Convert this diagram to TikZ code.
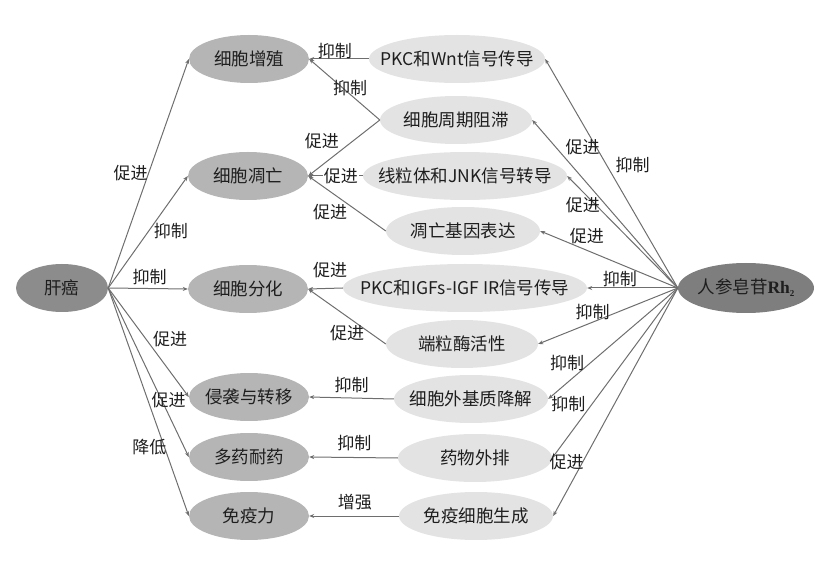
\documentclass[tikz,border=0pt]{standalone}
\usepackage{fontspec}
\setmainfont{Noto Sans CJK SC}
\newfontfamily\rhfont{Liberation Serif}
\usetikzlibrary{shapes.geometric,arrows.meta}
\definecolor{darkfill}{HTML}{8C8C8C}
\definecolor{rhfill}{HTML}{7E7E7E}
\definecolor{midfill}{HTML}{B5B5B5}
\definecolor{lightfill}{HTML}{E3E3E3}
\definecolor{txt}{HTML}{1E1E1E}
\definecolor{linec}{HTML}{6E6E6E}
\newcommand{\zw}[1]{\makebox[0pt][c]{#1}}
\tikzset{
  oval/.style={ellipse, inner sep=0pt, minimum height=48pt, text=txt,
    font=\fontsize{17.5}{19}\selectfont},
  rootbox/.style={oval, fill=darkfill, minimum width=92pt},
  drugbox/.style={oval, fill=rhfill, minimum width=136pt, minimum height=50pt},
  effbox/.style={oval, fill=midfill, minimum width=120pt},
  mechbox/.style={oval, fill=lightfill},
  conn/.style={draw=linec, line width=1pt, -{Stealth[length=5pt,width=4pt]}},
  lab/.style={text=txt, inner sep=1pt, font=\fontsize{17}{18}\selectfont}
}
\begin{document}
\begin{tikzpicture}[x=1pt,y=-1pt]
\useasboundingbox (0,0) rectangle (836,561);
% nodes
\node[rootbox] (liver) at (62,288) {\zw{肝癌}};
\node[drugbox] (rh) at (746,288) {\zw{人参皂苷{\rhfont\bfseries Rh\raisebox{-0.35ex}{\fontsize{9}{9}\selectfont 2}}}};
\node[effbox] (prolif) at (249,59) {\zw{细胞增殖}};
\node[effbox] (apop) at (248,176) {\zw{细胞凋亡}};
\node[effbox] (diff) at (248,289) {\zw{细胞分化}};
\node[effbox] (inv) at (249,397) {\zw{侵袭与转移}};
\node[effbox] (mdr) at (249,457) {\zw{多药耐药}};
\node[effbox] (imm) at (249,516) {\zw{免疫力}};
\node[mechbox, minimum width=176pt] (wnt) at (457,59) {\zw{PKC和Wnt信号传导}};
\node[mechbox, minimum width=152pt] (cyc) at (456,120) {\zw{细胞周期阻滞}};
\node[mechbox, minimum width=204pt] (mito) at (465,176) {\zw{线粒体和JNK信号转导}};
\node[mechbox, minimum width=154pt] (gene) at (463,231) {\zw{凋亡基因表达}};
\node[mechbox, minimum width=244pt] (igf) at (465,288) {\zw{PKC和IGFs-IGF IR信号传导}};
\node[mechbox, minimum width=152pt] (telo) at (462,344) {\zw{端粒酶活性}};
\node[mechbox, minimum width=154pt] (ecm) at (471,399) {\zw{细胞外基质降解}};
\node[mechbox, minimum width=154pt] (eff) at (475,458) {\zw{药物外排}};
\node[mechbox, minimum width=154pt] (immc) at (476,516) {\zw{免疫细胞生成}};
% liver to effects
\draw[conn] (liver.east) -- node[lab, pos=0.5, xshift=-18pt] (l1) {促进} (prolif.west);
\draw[conn] (liver.east) -- node[lab, pos=0.51, xshift=22pt] (l2) {抑制} (apop.west);
\draw[conn] (liver.east) -- node[lab, pos=0.52, yshift=11pt] (l3) {抑制} (diff.west);
\draw[conn] (liver.east) -- node[lab, pos=0.47, xshift=24pt] (l4) {促进} (inv.west);
\draw[conn] (liver.east) -- node[lab, pos=0.663, xshift=7pt] (l5) {促进} (mdr.west);
\draw[conn] (liver.east) -- node[lab, pos=0.697, xshift=-15pt] (l6) {降低} (imm.west);
% mechanisms to effects
\draw[conn] (wnt.west) -- node[lab, pos=0.57, yshift=8pt] (m1) {抑制} (prolif.east);
\draw[conn] (cyc.west) -- node[lab, pos=0.42, yshift=6pt] (m2) {抑制} (prolif.east);
\draw[conn] (cyc.west) -- node[lab, pos=0.375, xshift=-31pt] (m3) {促进} (apop.east);
\draw[conn] (mito.west) -- node[lab, pos=0.4, fill=white] (m4) {促进} (apop.east);
\draw[conn] (gene.west) -- node[lab, pos=0.718, yshift=-21pt] (m5) {促进} (apop.east);
\draw[conn] (igf.west) -- node[lab, pos=0.37, yshift=18pt] (m6) {促进} (diff.east);
\draw[conn] (telo.west) -- node[lab, pos=0.5, yshift=-17pt] (m7) {促进} (diff.east);
\draw[conn] (ecm.west) -- node[lab, pos=0.5, yshift=13pt] (m8) {抑制} (inv.east);
\draw[conn] (eff.west) -- node[lab, pos=0.49, yshift=14pt] (m9) {抑制} (mdr.east);
\draw[conn] (immc.west) -- node[lab, pos=0.49, yshift=14pt] (m10) {增强} (imm.east);
% drug to mechanisms
\draw[conn] (rh.west) -- node[lab, pos=0.537, xshift=26pt] (r1) {抑制} (wnt.east);
\draw[conn] (rh.west) -- node[lab, pos=0.84, xshift=27pt] (r2) {促进} (cyc.east);
\draw[conn] (rh.west) -- node[lab, pos=0.74, xshift=-13pt] (r3) {促进} (mito.east);
\draw[conn] (rh.west) -- node[lab, pos=0.66, yshift=14pt] (r4) {促进} (gene.east);
\draw[conn] (rh.west) -- node[lab, pos=0.64, yshift=9pt] (r5) {抑制} (igf.east);
\draw[conn] (rh.west) -- node[lab, pos=0.61, yshift=10pt] (r6) {抑制} (telo.east);
\draw[conn] (rh.west) -- node[lab, pos=0.676, xshift=-23pt] (r7) {抑制} (ecm.east);
\draw[conn] (rh.west) -- node[lab, pos=0.68, xshift=-24pt] (r8) {抑制} (eff.east);
\draw[conn] (rh.west) -- node[lab, pos=0.763, xshift=-16pt] (r9) {促进} (immc.east);
\end{tikzpicture}
\end{document}
